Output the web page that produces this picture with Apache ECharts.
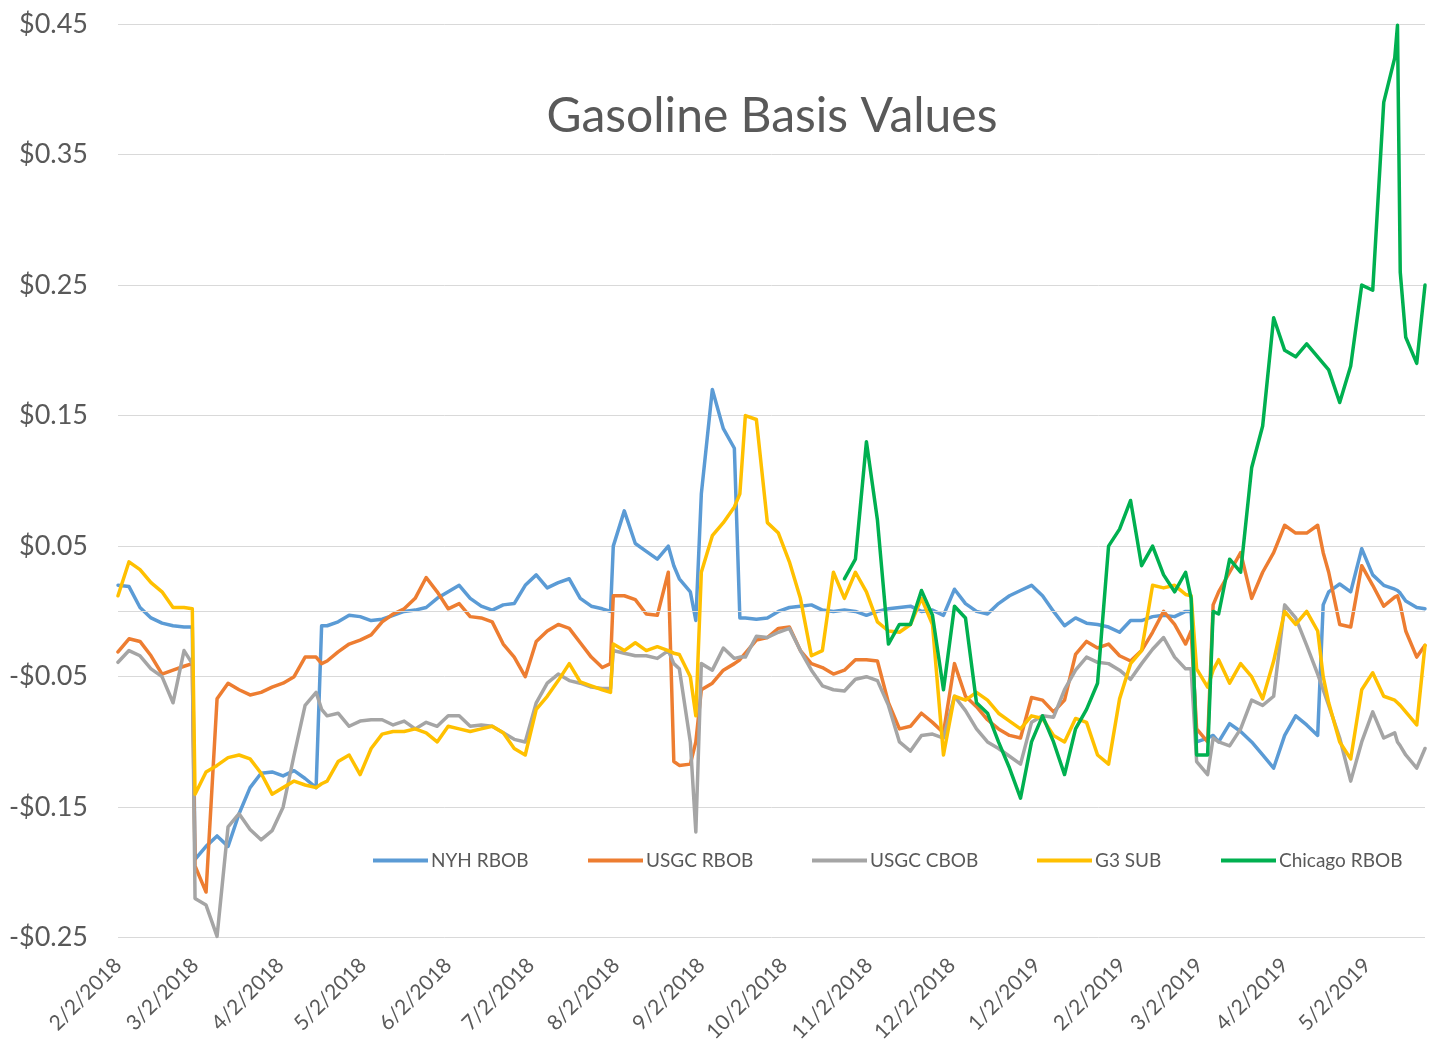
<!DOCTYPE html>
<html>
<head>
<meta charset="utf-8">
<script src="https://cdn.jsdelivr.net/npm/echarts@6/dist/echarts.min.js"></script>
<style>
html,body{margin:0;padding:0;background:#fff;}
#chart{width:1429px;height:1045px;}
</style>
</head>
<body>
<div id="chart"></div>
<script>
// ---- DATA ----
const seriesNames = ['NYH RBOB', 'USGC RBOB', 'USGC CBOB', 'G3 SUB', 'Chicago RBOB'];

const tickDates = ['2018-02-02','2018-03-02','2018-04-02','2018-05-02','2018-06-02','2018-07-02','2018-08-02','2018-09-02','2018-10-02','2018-11-02','2018-12-02','2019-01-02','2019-02-02','2019-03-02','2019-04-02','2019-05-02'];

const yTicks = [-0.25, -0.15, -0.05, 0.05, 0.15, 0.25, 0.35, 0.45];

const dates = [
'2018-02-02','2018-02-06','2018-02-10','2018-02-14','2018-02-18','2018-02-22','2018-02-26','2018-03-01','2018-03-02','2018-03-06',
'2018-03-10','2018-03-14','2018-03-18','2018-03-22','2018-03-26','2018-03-30','2018-04-03','2018-04-07','2018-04-11','2018-04-15',
'2018-04-17','2018-04-19','2018-04-23','2018-04-27','2018-05-01','2018-05-05','2018-05-09','2018-05-13','2018-05-17','2018-05-21',
'2018-05-25','2018-05-29','2018-06-02','2018-06-06','2018-06-10','2018-06-14','2018-06-18','2018-06-22','2018-06-26','2018-06-30',
'2018-07-04','2018-07-08','2018-07-12','2018-07-16','2018-07-20','2018-07-24','2018-07-28','2018-07-31','2018-08-01','2018-08-05',
'2018-08-09','2018-08-13','2018-08-17','2018-08-21','2018-08-23','2018-08-25','2018-08-29','2018-08-31','2018-09-02','2018-09-06',
'2018-09-10','2018-09-14','2018-09-16','2018-09-18','2018-09-22','2018-09-26','2018-09-30','2018-10-04','2018-10-08','2018-10-12',
'2018-10-16','2018-10-20','2018-10-24','2018-10-28','2018-11-01','2018-11-05','2018-11-09','2018-11-13','2018-11-17','2018-11-21',
'2018-11-25','2018-11-29','2018-12-03','2018-12-07','2018-12-11','2018-12-15','2018-12-19','2018-12-23','2018-12-27','2018-12-31',
'2019-01-04','2019-01-08','2019-01-12','2019-01-16','2019-01-20','2019-01-24','2019-01-28','2019-02-01','2019-02-05','2019-02-09',
'2019-02-13','2019-02-17','2019-02-21','2019-02-25','2019-02-27','2019-03-01','2019-03-05','2019-03-07','2019-03-09','2019-03-13',
'2019-03-17','2019-03-21','2019-03-25','2019-03-29','2019-04-02','2019-04-06','2019-04-10','2019-04-14','2019-04-16','2019-04-18',
'2019-04-22','2019-04-26','2019-04-30','2019-05-04','2019-05-08','2019-05-12','2019-05-13','2019-05-14','2019-05-16','2019-05-20',
'2019-05-23'
];

const nyhRbob = [
0.020,0.019,0.003,-0.005,-0.009,-0.011,-0.012,-0.012,-0.190,-0.180,
-0.172,-0.180,-0.155,-0.135,-0.124,-0.123,-0.126,-0.122,-0.128,-0.135,
-0.011,-0.011,-0.008,-0.003,-0.004,-0.007,-0.006,-0.003,0.000,0.001,
0.003,0.010,0.015,0.020,0.010,0.004,0.001,0.005,0.006,0.020,
0.028,0.018,0.022,0.025,0.010,0.004,0.002,0.000,0.050,0.077,
0.052,0.046,0.040,0.050,0.035,0.025,0.015,-0.007,0.090,0.170,
0.140,0.125,-0.005,-0.005,-0.006,-0.005,0.000,0.003,0.004,0.005,
0.001,0.000,0.001,0.000,-0.003,0.000,0.002,0.003,0.004,0.000,
0.001,-0.003,0.017,0.006,0.000,-0.002,0.006,0.012,0.016,0.020,
0.012,0.000,-0.011,-0.005,-0.009,-0.010,-0.012,-0.016,-0.007,-0.007,
-0.004,-0.003,-0.004,0.000,0.000,-0.100,-0.097,-0.095,-0.100,-0.086,
-0.092,-0.100,-0.110,-0.120,-0.095,-0.080,-0.087,-0.095,0.005,0.015,
0.021,0.015,0.048,0.028,0.020,0.017,0.016,0.014,0.008,0.003,
0.002
];

const usgcRbob = [
-0.031,-0.021,-0.023,-0.034,-0.048,-0.045,-0.042,-0.040,-0.195,-0.215,
-0.067,-0.055,-0.060,-0.064,-0.062,-0.058,-0.055,-0.050,-0.035,-0.035,
-0.040,-0.038,-0.031,-0.025,-0.022,-0.018,-0.008,-0.002,0.002,0.010,
0.026,0.015,0.002,0.006,-0.004,-0.005,-0.008,-0.025,-0.035,-0.050,
-0.023,-0.015,-0.010,-0.013,-0.024,-0.035,-0.043,-0.040,0.012,0.012,
0.009,-0.002,-0.003,0.030,-0.115,-0.118,-0.117,-0.100,-0.060,-0.055,
-0.045,-0.040,-0.037,-0.032,-0.022,-0.020,-0.013,-0.012,-0.030,-0.040,
-0.043,-0.048,-0.045,-0.037,-0.037,-0.038,-0.070,-0.090,-0.088,-0.078,
-0.085,-0.093,-0.040,-0.065,-0.073,-0.083,-0.090,-0.095,-0.097,-0.066,
-0.068,-0.077,-0.068,-0.033,-0.023,-0.028,-0.025,-0.034,-0.038,-0.030,
-0.016,0.000,-0.010,-0.025,-0.015,-0.090,-0.100,0.005,0.015,0.030,
0.045,0.010,0.030,0.045,0.066,0.060,0.060,0.066,0.045,0.030,
-0.010,-0.012,0.035,0.020,0.004,0.011,0.012,0.005,-0.015,-0.035,
-0.026
];

const usgcCbob = [
-0.039,-0.030,-0.034,-0.044,-0.050,-0.070,-0.030,-0.040,-0.220,-0.225,
-0.249,-0.165,-0.155,-0.167,-0.175,-0.168,-0.150,-0.110,-0.072,-0.062,
-0.075,-0.080,-0.078,-0.088,-0.084,-0.083,-0.083,-0.087,-0.084,-0.090,
-0.085,-0.088,-0.080,-0.080,-0.088,-0.087,-0.088,-0.093,-0.098,-0.100,
-0.070,-0.055,-0.048,-0.053,-0.055,-0.058,-0.059,-0.059,-0.030,-0.032,
-0.034,-0.034,-0.036,-0.030,-0.040,-0.044,-0.100,-0.169,-0.040,-0.045,
-0.028,-0.036,-0.035,-0.035,-0.019,-0.020,-0.016,-0.013,-0.030,-0.045,
-0.057,-0.060,-0.061,-0.052,-0.050,-0.053,-0.072,-0.100,-0.107,-0.095,
-0.094,-0.097,-0.065,-0.076,-0.090,-0.100,-0.105,-0.111,-0.117,-0.085,
-0.080,-0.081,-0.060,-0.045,-0.035,-0.039,-0.040,-0.045,-0.052,-0.040,
-0.029,-0.020,-0.035,-0.044,-0.044,-0.115,-0.125,-0.097,-0.100,-0.103,
-0.090,-0.068,-0.072,-0.065,0.005,-0.005,-0.026,-0.048,-0.060,-0.072,
-0.097,-0.130,-0.100,-0.077,-0.097,-0.093,-0.100,-0.103,-0.110,-0.120,
-0.105
];

const g3Sub = [
0.012,0.038,0.032,0.022,0.015,0.003,0.003,0.002,-0.140,-0.123,
-0.118,-0.112,-0.110,-0.113,-0.124,-0.140,-0.135,-0.130,-0.133,-0.135,
-0.132,-0.130,-0.115,-0.110,-0.125,-0.105,-0.094,-0.092,-0.092,-0.090,
-0.093,-0.100,-0.088,-0.090,-0.092,-0.090,-0.088,-0.093,-0.105,-0.110,
-0.075,-0.065,-0.053,-0.040,-0.054,-0.057,-0.060,-0.062,-0.025,-0.030,
-0.024,-0.030,-0.027,-0.030,-0.032,-0.033,-0.050,-0.080,0.030,0.058,
0.068,0.080,0.090,0.150,0.147,0.068,0.060,0.038,0.010,-0.034,
-0.030,0.030,0.010,0.030,0.015,-0.008,-0.015,-0.016,-0.010,0.010,
-0.010,-0.110,-0.065,-0.068,-0.062,-0.068,-0.078,-0.084,-0.090,-0.080,
-0.082,-0.095,-0.100,-0.082,-0.085,-0.110,-0.117,-0.067,-0.040,-0.030,
0.020,0.018,0.020,0.013,0.012,-0.044,-0.058,-0.045,-0.037,-0.055,
-0.040,-0.050,-0.067,-0.038,0.000,-0.010,0.000,-0.015,-0.050,-0.070,
-0.100,-0.113,-0.060,-0.047,-0.065,-0.068,-0.070,-0.072,-0.077,-0.087,
-0.026
];

const chicagoRbob = [
null,null,null,null,null,null,null,null,null,null,
null,null,null,null,null,null,null,null,null,null,
null,null,null,null,null,null,null,null,null,null,
null,null,null,null,null,null,null,null,null,null,
null,null,null,null,null,null,null,null,null,null,
null,null,null,null,null,null,null,null,null,null,
null,null,null,null,null,null,null,null,null,null,
null,null,0.025,0.040,0.130,0.070,-0.025,-0.010,-0.010,0.016,
-0.003,-0.060,0.004,-0.005,-0.070,-0.078,-0.100,-0.120,-0.143,-0.100,
-0.080,-0.100,-0.125,-0.090,-0.075,-0.055,0.050,0.063,0.085,0.035,
0.050,0.028,0.015,0.030,0.010,-0.110,-0.110,0.000,-0.002,0.040,
0.030,0.110,0.142,0.225,0.200,0.195,0.205,0.195,0.190,0.185,
0.160,0.188,0.250,0.246,0.390,0.424,0.449,0.260,0.210,0.190,
0.250
];

const seriesValues = [nyhRbob, usgcRbob, usgcCbob, g3Sub, chicagoRbob];

// ---- STYLE / LAYOUT ----
const colors = ['#5B9BD5', '#ED7D31', '#A5A5A5', '#FFC000', '#00B050'];
const legendLefts = [373, 588, 812, 1037, 1221];
const FONT = 'Lato, "Open Sans", sans-serif';
const TEXT = '#595959';

function ts(s) {
  const p = s.split('-').map(Number);
  return new Date(p[0], p[1] - 1, p[2]).getTime();
}
function fmtDate(v) {
  const d = new Date(v);
  return (d.getMonth() + 1) + '/' + d.getDate() + '/' + d.getFullYear();
}
function fmtMoney(v) {
  const r = Math.round(v * 100) / 100;
  return (r < 0 ? '-$' : '$') + Math.abs(r).toFixed(2);
}

const chart = echarts.init(document.getElementById('chart'), null, {renderer: 'canvas'});

const lineSeries = seriesNames.map((name, i) => ({
  name: name,
  type: 'line',
  showSymbol: false,
  symbol: 'none',
  connectNulls: false,
  z: 3 + i,
  lineStyle: {width: 3.5, color: colors[i], join: 'round', cap: 'round'},
  itemStyle: {color: colors[i]},
  data: dates.map((d, k) => [ts(d), seriesValues[i][k]])
}));

const zeroSeries = {
  name: 'zero',
  type: 'line',
  z: 1,
  data: [],
  silent: true,
  markLine: {
    silent: true,
    symbol: ['none', 'none'],
    label: {show: false},
    lineStyle: {color: '#D9D9D9', type: 'solid', width: 1},
    data: [{yAxis: 0}]
  }
};

const option = {
  animation: false,
  backgroundColor: '#ffffff',
  color: colors,
  title: {
    text: 'Gasoline Basis Values',
    left: 767,
    textAlign: 'center',
    top: 88,
    textStyle: {fontFamily: FONT, fontSize: 48, fontWeight: 'normal', color: TEXT}
  },
  legend: seriesNames.map((n, i) => ({
    data: [n],
    left: legendLefts[i],
    top: 851,
    padding: 0,
    icon: 'rect',
    itemWidth: 55,
    itemHeight: 4,
    selectedMode: false,
    textStyle: {fontFamily: FONT, fontSize: 19, color: TEXT, padding: [0, 0, 0, -2]}
  })),
  grid: {left: 118, right: 4, top: 24, bottom: 105, containLabel: false},
  xAxis: {
    type: 'value',
    min: ts('2018-02-02'),
    max: ts('2019-05-23'),
    splitLine: {show: false},
    axisLine: {show: false},
    axisTick: {show: false},
    axisLabel: {
      customValues: tickDates.map(ts),
      rotate: 45,
      margin: 24,
      hideOverlap: false,
      showMinLabel: true,
      showMaxLabel: true,
      formatter: fmtDate,
      fontFamily: FONT,
      fontSize: 21,
      color: TEXT
    }
  },
  yAxis: {
    type: 'value',
    min: yTicks[0],
    max: yTicks[yTicks.length - 1],
    interval: 0.1,
    axisLine: {show: false},
    axisTick: {show: false},
    splitLine: {show: true, lineStyle: {color: '#D9D9D9', width: 1}},
    axisLabel: {
      formatter: fmtMoney,
      margin: 30,
      fontFamily: FONT,
      fontSize: 27,
      color: TEXT
    }
  },
  series: [zeroSeries].concat(lineSeries)
};

chart.setOption(option);
</script>
</body>
</html>
